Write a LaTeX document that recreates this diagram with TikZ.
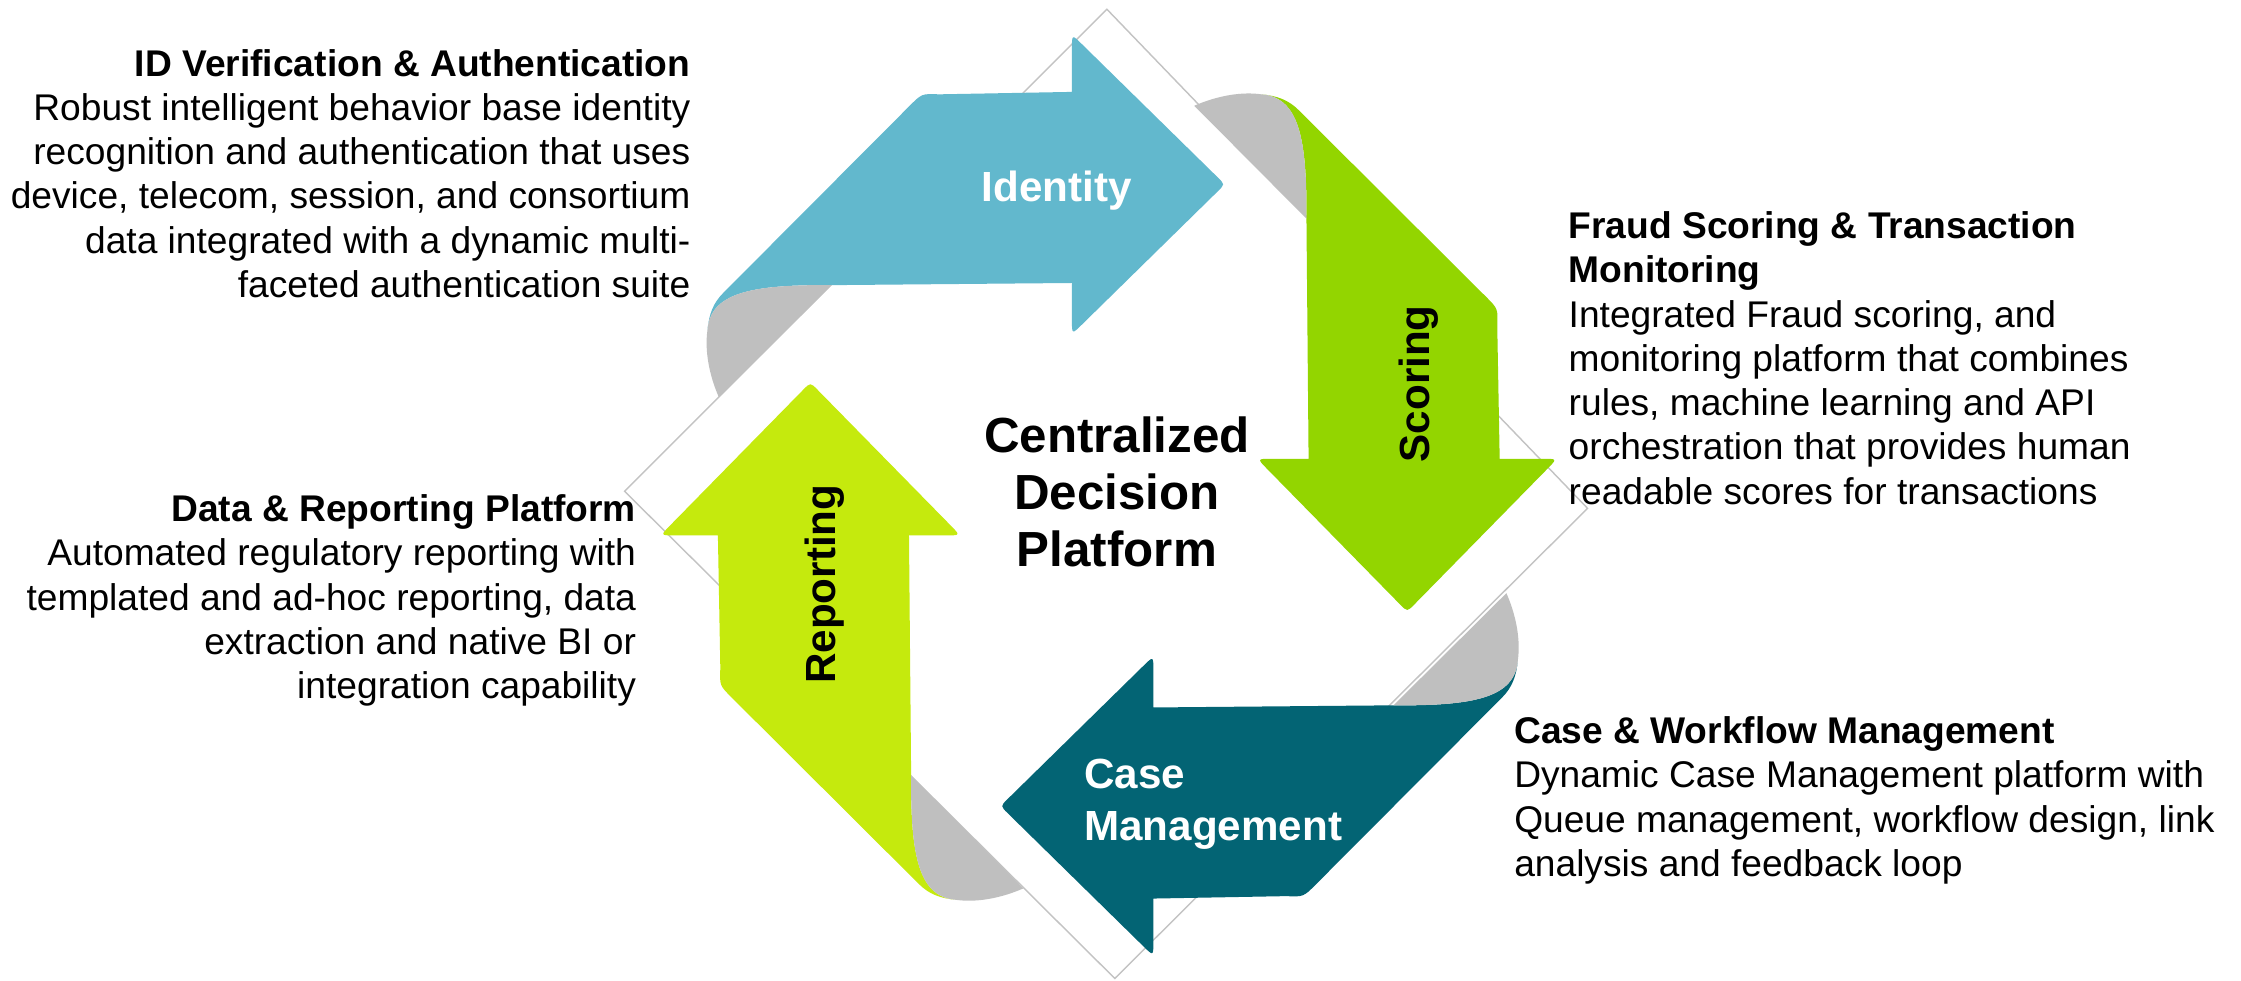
\documentclass[tikz,border=0pt]{standalone}
\usepackage{fontspec}
\setmainfont{Liberation Sans}
\definecolor{idblue}{HTML}{62B8CD}
\definecolor{scgreen}{HTML}{93D500}
\definecolor{cmteal}{HTML}{036474}
\definecolor{rpyellow}{HTML}{C5EA0D}
\definecolor{foldgray}{HTML}{BFBFBF}
\definecolor{linegray}{HTML}{C3C3C3}
\newcommand\ribbonpath{(495,231) .. controls (496,220) and (499,212) .. (506,205) -- (636.5,74) .. controls (645,65.5) .. (657,66) -- (750,64.3) -- (750,34) .. controls (750,24) .. (757.1,31) -- (852,124.1) .. controls (857,129) .. (852,133.9) -- (757.1,227) .. controls (750,234) .. (750,224) -- (750,198) -- (582,199.5) .. controls (525,199) and (497,205) .. (495,231) -- cycle}
\newcommand\foldpath{(582,199.5) -- (503,278) .. controls (496,262) and (493,245) .. (495,231) .. controls (497,205) and (525,199) .. (582,199.5) -- cycle}
\begin{document}
\begin{tikzpicture}[x=1pt,y=-1pt,
  bodytext/.style={font=\fontsize{26}{31}\selectfont, inner sep=0pt, outer sep=0pt},
  headtext/.style={font=\fontsize{26}{31}\selectfont\bfseries, inner sep=0pt, outer sep=0pt},
  labeltext/.style={font=\fontsize{29.5}{34}\selectfont\bfseries, inner sep=0pt},
  centertext/.style={font=\fontsize{34.5}{40}\selectfont\bfseries, inner sep=0pt},
  diamondline/.style={draw=linegray, line width=1pt},
  foldfill/.style={fill=foldgray}]
\fill[white] (0,0) rectangle (1568,685.7);
\useasboundingbox (0,0) rectangle (1568,685.7);
\draw[diamondline] (774.5,6.5) -- (1110.8,355.7) -- (780,684.6) -- (437,343.7) -- cycle;
% Identity
\fill[idblue] \ribbonpath;
\fill[foldfill] \foldpath;
% Scoring
\begin{scope}[rotate around={-90:(771.3,342.3)}]
\fill[scgreen] \ribbonpath;
\fill[foldfill] \foldpath;
\end{scope}
% Case management
\begin{scope}[rotate around={180:(778.5,346.5)}]
\fill[cmteal] \ribbonpath;
\fill[foldfill] \foldpath;
\end{scope}
% Reporting
\begin{scope}[rotate around={90:(781.3,343.3)}]
\fill[rpyellow] \ribbonpath;
\fill[foldfill] \foldpath;
\end{scope}
% arrow labels
\node[labeltext, text=white, anchor=base] (lid) at (739.5,141) {Identity};
\node[labeltext, anchor=base, rotate=90] (lsc) at (1000.2,268.5) {Scoring};
\node[labeltext, anchor=base, rotate=90] (lrp) at (584.8,408.7) {Reporting};
\node[labeltext, text=white, anchor=base west] (lcm1) at (758.5,551.6) {Case};
\node[labeltext, text=white, anchor=base west] (lcm2) at (758.5,587.8) {Management};
% centre
\node[centertext, anchor=base] (c1) at (781.5,316.3) {Centralized};
\node[centertext, anchor=base] (c2) at (781.5,356.3) {Decision};
\node[centertext, anchor=base] (c3) at (781.5,396.6) {Platform};
% ID block
\node[headtext, anchor=base east] (idh) at (483,53.2) {ID Verification \& Authentication};
\foreach \t [count=\i] in {Robust intelligent behavior base identity, recognition and authentication that uses, {device, telecom, session, and consortium}, data integrated with a dynamic multi-, faceted authentication suite}
  \node[bodytext, anchor=base east] (idb\i) at (483,53.2+31*\i) {\t};
% Data block
\node[headtext, anchor=base east] (drh) at (445,365) {Data \& Reporting Platform};
\foreach \t [count=\i] in {Automated regulatory reporting with, {templated and ad-hoc reporting, data}, extraction and native BI or, integration capability}
  \node[bodytext, anchor=base east] (drb\i) at (445,365+31*\i) {\t};
% Fraud block
\node[headtext, anchor=base west] (fsh1) at (1097.6,166.8) {Fraud Scoring \& Transaction};
\node[headtext, anchor=base west] (fsh2) at (1097.6,197.8) {Monitoring};
\foreach \t [count=\i] in {{Integrated Fraud scoring, and}, monitoring platform that combines, {rules, machine learning and API}, orchestration that provides human, readable scores for transactions}
  \node[bodytext, anchor=base west] (fsb\i) at (1097.6,197.8+31*\i) {\t};
% Case block
\node[headtext, anchor=base west] (cwh) at (1059.5,520.2) {Case \& Workflow Management};
\foreach \t [count=\i] in {Dynamic Case Management platform with, {Queue management, workflow design, link}, analysis and feedback loop}
  \node[bodytext, anchor=base west] (cwb\i) at (1059.5,520.2+31*\i) {\t};
\end{tikzpicture}
\end{document}
